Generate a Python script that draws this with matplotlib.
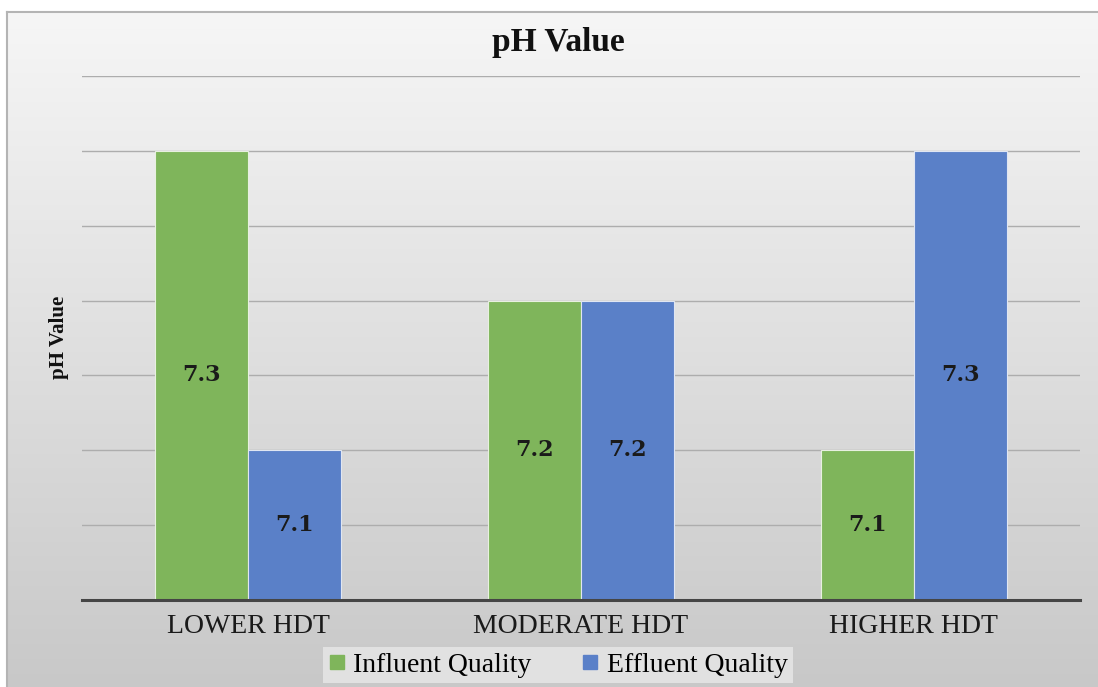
import numpy as np
import matplotlib
matplotlib.use("Agg")
import matplotlib.pyplot as plt
from matplotlib.lines import Line2D

# ---- data ---------------------------------------------------------------
categories = ["LOWER HDT", "MODERATE HDT", "HIGHER HDT"]
influent = [7.3, 7.2, 7.1]
effluent = [7.1, 7.2, 7.3]
series_names = ["Influent Quality", "Effluent Quality"]

GREEN = "#7fb55b"
BLUE = "#5a80c8"
SERIF = ["Liberation Serif", "DejaVu Serif"]

W, H = 1098, 687
fig = plt.figure(figsize=(W / 100, H / 100), dpi=100)
fig.patch.set_facecolor("white")

# chart-area background with a soft vertical gradient
bg = fig.add_axes([7 / W, 0, 1 - 7 / W, (H - 12) / H], zorder=0)
grad = np.linspace(0, 1, 256)[:, None]
top_c = np.array([0.965, 0.965, 0.965])
bot_c = np.array([0.785, 0.785, 0.785])
img = top_c[None, None, :] * (1 - grad[..., None]) + bot_c[None, None, :] * grad[..., None]
img = np.repeat(img, 2, axis=1)
bg.imshow(img, aspect="auto", extent=(0, 1, 0, 1), origin="upper")
bg.set_xlim(0, 1)
bg.set_ylim(0, 1)
for s in ("left", "top"):
    bg.spines[s].set_color("#b4b4b4")
    bg.spines[s].set_linewidth(1.5)
for s in ("right", "bottom"):
    bg.spines[s].set_visible(False)
bg.set_xticks([])
bg.set_yticks([])

# ---- plot area ----------------------------------------------------------
ax = fig.add_axes([82 / W, (H - 600) / H, (1080 - 82) / W, (600 - 76) / H], zorder=1)
ax.patch.set_alpha(0)

x = np.arange(len(categories))
bw = 0.28
off = 0.14
ax.bar(x - off, influent, bw, bottom=0, color=GREEN, edgecolor="#e8f0e0", linewidth=0.8, zorder=3)
ax.bar(x + off, effluent, bw, bottom=0, color=BLUE, edgecolor="#e0e6f2", linewidth=0.8, zorder=3)

ymin, ymax = 7.0, 7.35
ax.set_ylim(ymin, ymax)
ax.set_xlim(-0.5, len(categories) - 0.5)
ax.set_yticks(np.arange(7.0, 7.351, 0.05))
ax.set_yticklabels([])
ax.tick_params(axis="y", length=0)
ax.grid(axis="y", color="#adadad", linewidth=1.0, zorder=1)
ax.set_axisbelow(True)

for s in ("left", "right", "top"):
    ax.spines[s].set_visible(False)
ax.spines["bottom"].set_color("#454545")
ax.spines["bottom"].set_linewidth(2.2)
ax.spines["bottom"].set_zorder(4)

ax.set_xticks(x)
ax.set_xticklabels(categories, fontsize=20, family=SERIF, color="#1a1a1a")
ax.tick_params(axis="x", length=0, pad=10)

# data labels at mid-height of each bar
for xi, v in zip(x - off, influent):
    ax.text(xi, (ymin + v) / 2, f"{v:.1f}", ha="center", va="center",
            fontsize=16, fontweight="bold", family="DejaVu Serif", color="#1a1a1a", zorder=5)
for xi, v in zip(x + off, effluent):
    ax.text(xi, (ymin + v) / 2, f"{v:.1f}", ha="center", va="center",
            fontsize=16, fontweight="bold", family="DejaVu Serif", color="#1a1a1a", zorder=5)

# title and axis label
fig.text(558 / W, 1 - 43 / H, "pH Value", ha="center", va="center",
         fontsize=24, fontweight="bold", family=SERIF, color="#111111", zorder=5)
fig.text(59 / W, 1 - 337 / H, "pH Value", ha="center", va="center", rotation=90,
         fontsize=15, fontweight="bold", family=SERIF, color="#111111", zorder=5)

# legend
handles = [
    Line2D([], [], marker="s", linestyle="none", markersize=10,
           markerfacecolor=GREEN, markeredgecolor=GREEN),
    Line2D([], [], marker="s", linestyle="none", markersize=10,
           markerfacecolor=BLUE, markeredgecolor=BLUE),
]
leg = fig.legend(handles, series_names, loc="center", bbox_to_anchor=(558 / W, 1 - 665 / H),
                 ncol=2, frameon=True, fancybox=False, prop={"family": SERIF, "size": 20},
                 handlelength=0.6, handletextpad=0.3, columnspacing=1.8,
                 borderpad=0.2, borderaxespad=0)
leg.get_frame().set_facecolor("#e4e4e4")
leg.get_frame().set_edgecolor("none")
leg.get_frame().set_alpha(0.9)
leg.set_zorder(6)

fig.savefig("out.png", dpi=100)
